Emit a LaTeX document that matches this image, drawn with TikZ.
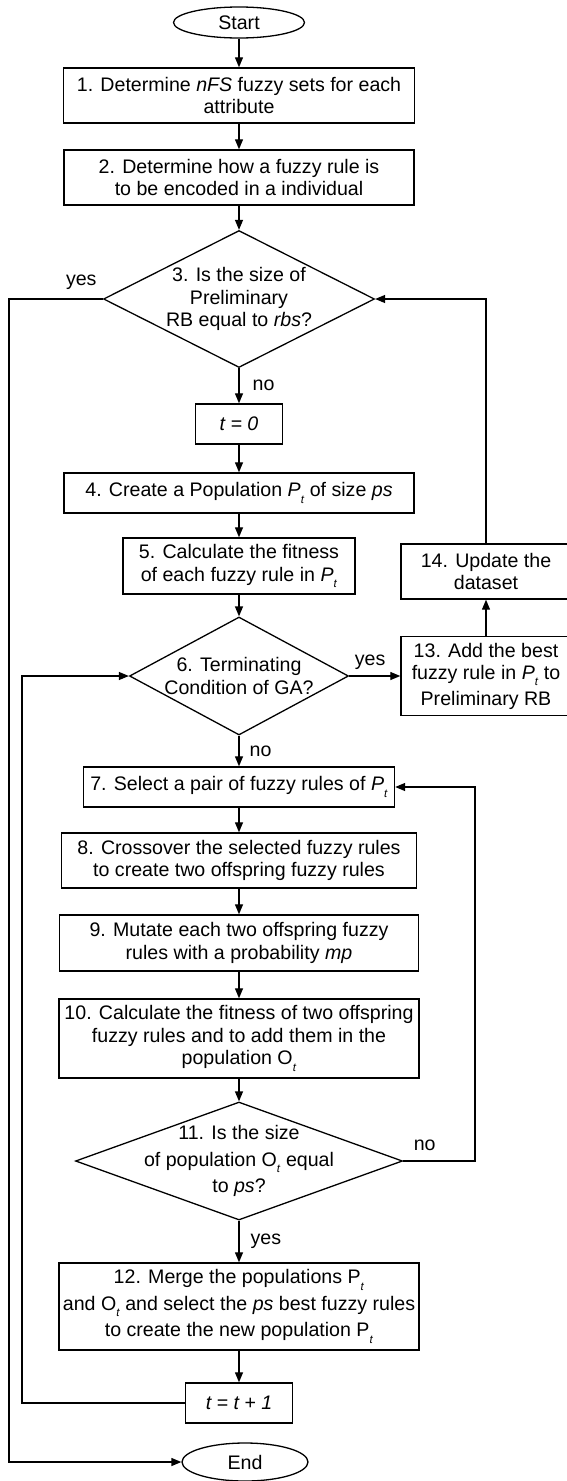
\documentclass[tikz,border=0pt]{standalone}
\usepackage{fontspec}
\setmainfont{Liberation Sans}
\usetikzlibrary{arrows.meta,shapes.geometric}

\begin{document}
\begin{tikzpicture}[x=1pt, y=-1pt,
    every node/.style={font=\fontsize{19.6}{22.5}\selectfont},
    process/.style={draw, line width=1.4pt, rectangle, align=center, inner sep=2pt},
    decision/.style={draw, line width=1.3pt, diamond, align=center, inner sep=-14pt},
    terminal/.style={draw, line width=1.3pt, ellipse, inner sep=0pt},
    flow/.style={line width=1.3pt, -{Triangle[length=10pt, width=8pt]}},
    answer/.style={inner sep=2pt}]
  \useasboundingbox (0,0) rectangle (567,1481);
  % subscript t as the picture sets it (small, well below the baseline)
  \newcommand{\subt}{\raisebox{-0.6ex}{\fontsize{11.5}{11.5}\selectfont\textit{t}}}

  % main column
  \node[terminal, minimum width=131, minimum height=31] (start) at (239,22.5) {Start};
  \node[process, minimum width=351, minimum height=55] (b1) at (239,95.5)
    {1. Determine \textit{nFS} fuzzy sets for each\\attribute};
  \node[process, minimum width=350, minimum height=55] (b2) at (239,177.5)
    {2. Determine how a fuzzy rule is\\to be encoded in a individual};
  \node[decision, minimum width=271, minimum height=137, aspect=1.98] (d3) at (239,299)
    {3. Is the size of\\Preliminary\\RB equal to \textit{rbs}?};
  \node[process, minimum width=87, minimum height=40] (t0) at (239,424) {\textit{t = 0}};
  \node[process, minimum width=350, minimum height=40] (b4) at (239,493)
    {4. Create a Population \textit{P}\subt{} of size \textit{ps}};
  \node[process, minimum width=232, minimum height=56] (b5) at (239,566)
    {5. Calculate the fitness\\of each fuzzy rule in \textit{P}\subt};
  \node[decision, minimum width=219, minimum height=118, aspect=1.86] (d6) at (239,676)
    {6. Terminating\\Condition of GA?};
  \node[process, minimum width=311, minimum height=40] (b7) at (239,787)
    {7. Select a pair of fuzzy rules of \textit{P}\subt};
  \node[process, minimum width=355, minimum height=55] (b8) at (239,860.5)
    {8. Crossover the selected fuzzy rules\\to create two offspring fuzzy rules};
  \node[process, minimum width=359, minimum height=56] (b9) at (239,943)
    {9. Mutate each two offspring fuzzy\\rules with a probability \textit{mp}};
  \node[process, minimum width=360, minimum height=79] (b10) at (239,1038.5)
    {10. Calculate the fitness of two offspring\\fuzzy rules and to add them in the\\population O\subt};
  \node[decision, minimum width=327, minimum height=118, aspect=2.77] (d11) at (239,1161)
    {11. Is the size\\[4pt]of population O\subt{} equal\\[4pt]to \textit{ps}?};
  \node[process, minimum width=360, minimum height=87] (b12) at (239,1306.5)
    {12. Merge the populations P\subt\\[4pt]and O\subt{} and select the \textit{ps} best fuzzy rules\\[4pt]to create the new population P\subt};
  \node[process, minimum width=107, minimum height=40] (t1) at (239,1403) {\textit{t = t + 1}};
  \node[terminal, minimum width=126, minimum height=38] (end) at (245,1462) {End};

  % right column
  \node[process, minimum width=170, minimum height=79] (b13) at (486,676)
    {13. Add the best\\fuzzy rule in \textit{P}\subt{} to\\[3pt]Preliminary RB};
  \node[process, minimum width=170, minimum height=55] (b14) at (486,571.5)
    {14. Update the\\dataset};

  \coordinate (outer) at (9,0);
  \coordinate (inner) at (22,0);
  \coordinate (back) at (475,0);

  \draw[flow] (start) -- (b1);
  \draw[flow] (b1) -- (b2);
  \draw[flow] (b2) -- (d3);
  \draw[flow] (d3) -- node[answer, right=11pt] {no} (t0);
  \draw[flow] (t0) -- (b4);
  \draw[flow] (b4) -- (b5);
  \draw[flow] (b5) -- (d6);
  \draw[flow] (d6) -- node[answer, right=8pt] {no} (b7);
  \draw[flow] (b7) -- (b8);
  \draw[flow] (b8) -- (b9);
  \draw[flow] (b9) -- (b10);
  \draw[flow] (b10) -- (d11);
  \draw[flow] (d11) -- node[answer, right=9pt] {yes} (b12);
  \draw[flow] (b12) -- (t1);

  % loops
  \draw[flow] (d3.west) -- node[answer, above=7pt, pos=0.23] {yes} (outer |- d3.west)
    -- (outer |- end.west) -- (end.west);
  \draw[flow] (d6.east) -- node[answer, above=4pt, pos=0.41] {yes} (b13.west);
  \draw[flow] (b13) -- (b14);
  \draw[flow] (b14.north) |- (d3.east);
  \draw[flow] (d11.east) -- node[answer, above=8pt, pos=0.3] {no} (back |- d11.east)
    |- (b7.east);
  \draw[flow] (t1.west) -| (inner |- d6.west) -- (d6.west);
\end{tikzpicture}
\end{document}
